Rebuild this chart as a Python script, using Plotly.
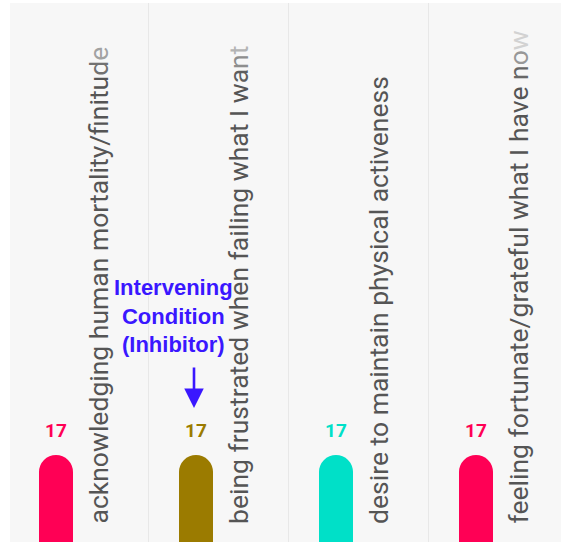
import plotly.graph_objects as go

# ---------------- data ----------------
categories = [
    "acknowledging human mortality/finitude",
    "being frustrated when failing what I want",
    "desire to maintain physical activeness",
    "feeling fortunate/grateful what I have now",
]
values = [17, 17, 17, 17]
bar_colors = ["#ff0055", "#9b7b00", "#00e0c8", "#ff0055"]
callout_text = "Intervening<br>Condition<br>(Inhibitor)"
callout_index = 1

# ---------------- layout constants ----------------
W, H = 561, 542
ML, MT, MB = 10, 3, 0
COL_PX = 140            # pixel width of one category column
FIRST_BAR_PX = 56       # pixel centre of the first bar
BAR_PX = 34
SEP_OFFSET = (148 - 56) / COL_PX
LABEL_FS = 26.5
LABEL_START_PX = 525
TEXT_COLOR = (85, 85, 85)
BG = (247, 247, 247)

x0 = -(FIRST_BAR_PX - ML) / COL_PX
x1 = x0 + (W - ML) / COL_PX
Y_RANGE = [10, 53.4]

# approximate Roboto advance widths (per 1000 em)
RW = {'a': 531, 'b': 547, 'c': 510, 'd': 550, 'e': 517, 'f': 339, 'g': 547, 'h': 538,
      'i': 238, 'j': 238, 'k': 496, 'l': 238, 'm': 855, 'n': 539, 'o': 556, 'p': 547,
      'q': 547, 'r': 331, 's': 505, 't': 320, 'u': 538, 'v': 472, 'w': 733, 'x': 480,
      'y': 461, 'z': 480, ' ': 248, '/': 402, 'I': 275}


def faded(label):
    out = []
    off = 0.0
    for ch in label:
        w = RW.get(ch, 520)
        ypx = LABEL_START_PX - 3 - (off + w / 2) * LABEL_FS / 1000
        off += w
        a = max(0.1, min(1.0, (ypx - 38) / 48))
        c = tuple(round(BG[k] + (TEXT_COLOR[k] - BG[k]) * a) for k in range(3))
        out.append('<span style="color:rgb(%d,%d,%d)">%s</span>' % (c + (ch,)))
    return "".join(out)


xs = list(range(len(categories)))

fig = go.Figure()
fig.add_trace(go.Bar(
    x=xs, y=values, width=BAR_PX / COL_PX,
    marker=dict(color=bar_colors, line=dict(width=0)),
    hoverinfo="skip",
))

annotations = []
for i, (cat, v, col) in enumerate(zip(categories, values, bar_colors)):
    annotations.append(dict(
        x=i, y=v, xref="x", yref="y", text="<b>%d</b>" % v, showarrow=False,
        yshift=25, yanchor="middle",
        font=dict(family="Roboto", size=19, color=col),
    ))
    annotations.append(dict(
        x=i, xref="x", xshift=42, y=(H - LABEL_START_PX - MB) / (H - MT - MB), yref="paper",
        yanchor="bottom", xanchor="center", textangle=-90, showarrow=False,
        text=faded(cat), borderpad=0,
        font=dict(family="Roboto", size=LABEL_FS, color="#555555"),
    ))

annotations.append(dict(
    x=callout_index, y=values[callout_index], xref="x", yref="y",
    xshift=-23, yshift=139, yanchor="middle", xanchor="center",
    text="<b>%s</b>" % callout_text, showarrow=False,
    font=dict(family="Liberation Sans, Arial", size=22, color="#3a17ff"),
))
annotations.append(dict(
    x=callout_index, y=values[callout_index], xref="x", yref="y",
    yshift=47, xshift=-2, text="", showarrow=True, ax=0, ay=-42,
    arrowhead=2, arrowsize=1.5, arrowwidth=2.6, arrowcolor="#3a17ff",
))

fig.update_layout(
    width=W, height=H,
    margin=dict(l=ML, r=0, t=MT, b=MB, pad=0),
    paper_bgcolor="white",
    plot_bgcolor="#f7f7f7",
    barcornerradius=BAR_PX / 2,
    showlegend=False,
    annotations=annotations,
    xaxis=dict(range=[x0, x1], tickvals=[i + SEP_OFFSET for i in xs], showticklabels=False,
               showgrid=True, gridcolor="#e8e8e8", gridwidth=1, zeroline=False,
               ticks="", fixedrange=True),
    yaxis=dict(range=Y_RANGE, showgrid=False, showticklabels=False, zeroline=False,
               ticks="", fixedrange=True),
)

fig.write_html("out.html", config={"displayModeBar": False},
               post_script="document.body.style.margin='0px';")
